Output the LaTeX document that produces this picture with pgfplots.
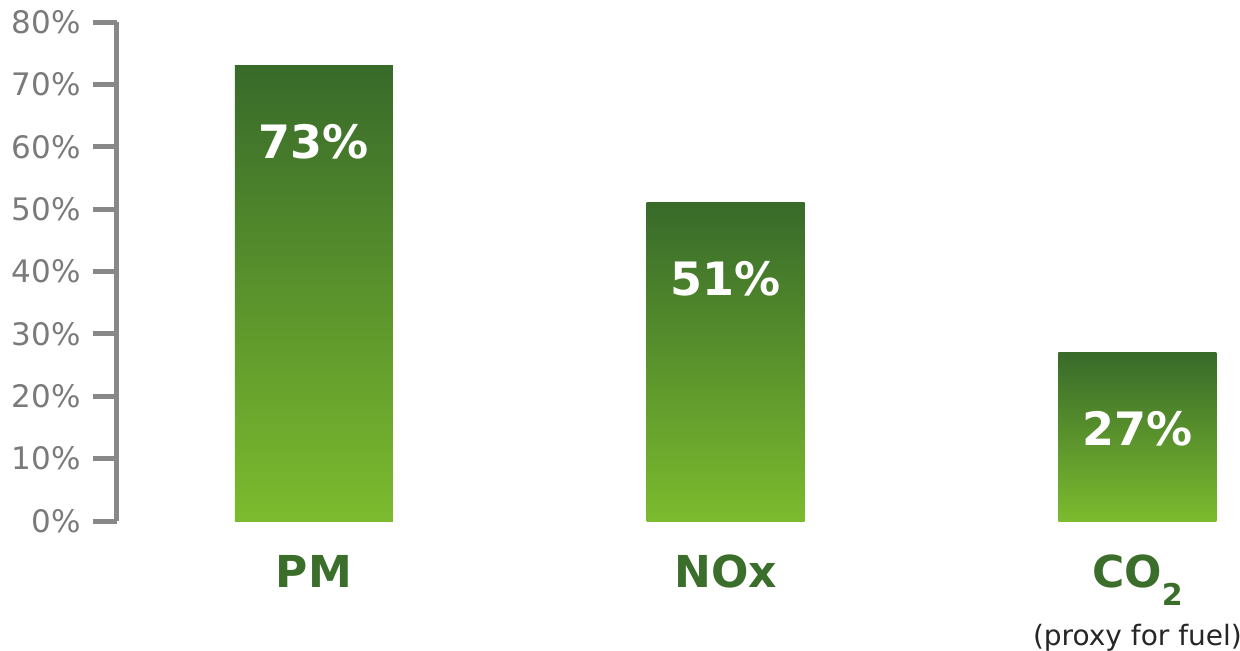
\documentclass[border=0pt]{standalone}
\usepackage{pgfplots}
\pgfplotsset{compat=1.18}
\usepackage{fontspec}
\setmainfont{DejaVu Sans}
\definecolor{bartop}{HTML}{386A2A}
\definecolor{barbot}{HTML}{7CBB2E}
\definecolor{catgreen}{HTML}{3B6E2B}
\definecolor{axgray}{HTML}{888888}
\definecolor{lblgray}{HTML}{7A7A7A}
\begin{document}
\begin{tikzpicture}
\useasboundingbox (-156.9pt,-64.5pt) rectangle (463.1pt,260.5pt);
\begin{axis}[
  at={(0,0)}, anchor=origin,
  scale only axis,
  width=561.5pt, height=249.5pt,
  xmin=-0.478, xmax=2.249,
  ymin=0, ymax=80,
  clip=false,
  axis x line*=bottom,
  axis y line*=left,
  x axis line style={draw=none},
  y axis line style={draw=axgray, line width=2.5pt, -},
  xtick={0,1,2},
  xtick style={draw=none},
  xticklabels={
    {\textbf{PM}},
    {\textbf{NOx}},
    {\textbf{CO}\raisebox{-9pt}{\fontsize{15}{15}\selectfont\bfseries 2}\\[3pt]{\color{black!85}\fontsize{14}{16}\selectfont\mdseries (proxy for fuel)}}
  },
  xticklabel style={align=center, text=catgreen, font=\fontsize{22}{26}\selectfont, yshift=-1.5pt},
  ytick={0,10,...,80},
  yticklabel={\pgfmathprintnumber{\tick}\%},
  yticklabel style={text=lblgray, font=\fontsize{15.5}{18}\selectfont, xshift=-2.5pt},
  /pgf/number format/assume math mode=true,
  ytick style={draw=axgray, line width=2.5pt},
  major tick length=12pt,
  tick align=outside,
  bar width=79pt,
  ybar, bar shift=0pt,
  nodes near coords={\pgfmathprintnumber{\pgfplotspointmeta}\%},
  every node near coord/.append style={font=\fontsize{23}{26}\selectfont\bfseries, text=white, anchor=center, yshift=-38pt},
]
\addplot[ybar, bar shift=0pt, draw=none, top color=bartop, bottom color=barbot] coordinates {(0,73)};
\addplot[ybar, bar shift=0pt, draw=none, top color=bartop, bottom color=barbot] coordinates {(1,51)};
\addplot[ybar, bar shift=0pt, draw=none, top color=bartop, bottom color=barbot] coordinates {(2,27)};
\end{axis}
\end{tikzpicture}
\end{document}
